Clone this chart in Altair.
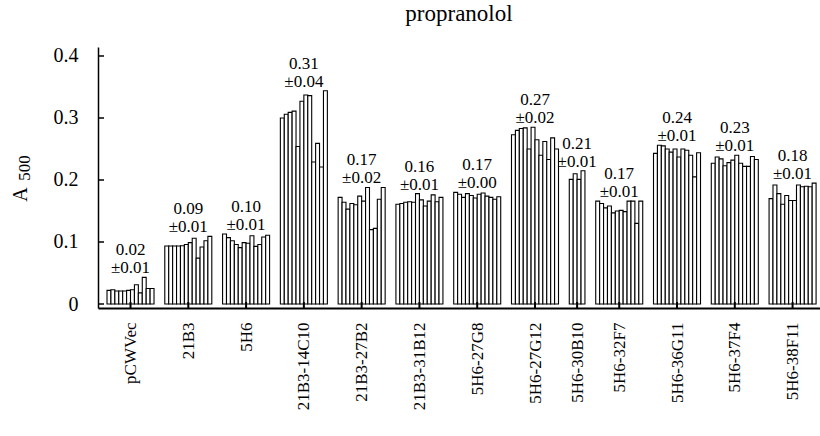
import altair as alt
import pandas as pd

# Clone names along the x axis
clones = ["pCWVec", "21B3", "5H6", "21B3-14C10", "21B3-27B2", "21B3-31B12",
          "5H6-27G8", "5H6-27G12", "5H6-30B10", "5H6-32F7", "5H6-36G11",
          "5H6-37F4", "5H6-38F11"]

# Mean and standard deviation printed above each clone
means = ["0.02", "0.09", "0.10", "0.31", "0.17", "0.16", "0.17",
         "0.27", "0.21", "0.17", "0.24", "0.23", "0.18"]
sds = ["0.01", "0.01", "0.01", "0.04", "0.02", "0.01", "0.00",
       "0.02", "0.01", "0.01", "0.01", "0.01", "0.01"]

# A500 readings of the individual replicates for each clone
pcwvec = [0.022, 0.023, 0.021, 0.021, 0.021, 0.022, 0.023, 0.031, 0.018, 0.043, 0.025, 0.025]
b21b3 = [0.0935, 0.0935, 0.0935, 0.0935, 0.094, 0.096, 0.099, 0.106, 0.074, 0.092, 0.102, 0.109]
h5h6 = [0.113, 0.107, 0.102, 0.096, 0.091, 0.099, 0.098, 0.110, 0.093, 0.096, 0.108, 0.111]
c14c10 = [0.300, 0.306, 0.309, 0.311, 0.254, 0.327, 0.337, 0.336, 0.229, 0.259, 0.221, 0.344]
c27b2 = [0.172, 0.164, 0.153, 0.162, 0.160, 0.174, 0.166, 0.188, 0.120, 0.122, 0.169, 0.188]
c31b12 = [0.161, 0.162, 0.164, 0.165, 0.164, 0.178, 0.168, 0.158, 0.166, 0.176, 0.165, 0.172]
c27g8 = [0.180, 0.177, 0.172, 0.178, 0.175, 0.171, 0.177, 0.179, 0.174, 0.172, 0.169, 0.173]
c27g12 = [0.273, 0.280, 0.283, 0.284, 0.250, 0.285, 0.265, 0.240, 0.262, 0.233, 0.268, 0.250]
c30b10 = [0.201, 0.210, 0.201, 0.215]
c32f7 = [0.166, 0.162, 0.155, 0.158, 0.147, 0.150, 0.151, 0.149, 0.166, 0.166, 0.130, 0.166]
c36g11 = [0.243, 0.256, 0.255, 0.250, 0.245, 0.250, 0.237, 0.250, 0.248, 0.240, 0.205, 0.244]
c37f4 = [0.227, 0.237, 0.234, 0.223, 0.228, 0.232, 0.240, 0.227, 0.222, 0.222, 0.238, 0.233]
c38f11 = [0.170, 0.192, 0.178, 0.161, 0.175, 0.167, 0.167, 0.192, 0.189, 0.190, 0.189, 0.195]

replicates = [pcwvec, b21b3, h5h6, c14c10, c27b2, c31b12, c27g8,
              c27g12, c30b10, c32f7, c36g11, c37f4, c38f11]

y_ticks = [0, 0.1, 0.2, 0.3, 0.4]

GAP = 2.75          # empty bar slots between clones
W, H = 722, 261     # plot area
SERIF = "Liberation Serif"

bar_rows, group_rows = [], []
start = 0.0
for name, vals, m, s in zip(clones, replicates, means, sds):
    for i, v in enumerate(vals):
        bar_rows.append({"clone": name, "x": start + i, "x2": start + i + 1, "a500": v})
    group_rows.append({"clone": name, "center": start + len(vals) / 2,
                       "top": max(vals), "mean": m, "sd": "\u00b1" + s})
    start += len(vals) + GAP

bars_df = pd.DataFrame(bar_rows)
groups_df = pd.DataFrame(group_rows)
centers = list(groups_df["center"])

label_map = "{" + ",".join(f"'{c:g}':'{n}'" for c, n in zip(centers, clones)) + "}"

x_scale = alt.Scale(domain=[-2.3, start - GAP + 1.0], nice=False, zero=False)
y_scale = alt.Scale(domain=[-0.00645, 0.4145], nice=False, zero=False)

x_axis = alt.Axis(values=centers, labelExpr=f"{label_map}[format(datum.value, '')]",
                  labelAngle=-90, labelFont=SERIF, labelFontSize=17, labelColor="black",
                  labelPadding=14, ticks=False, grid=False, domainColor="black",
                  domainWidth=2, title=None, labelFlush=False, labelOverlap=False)
# y-axis title "A"; its subscript "500" is drawn as a separate text mark
y_axis = alt.Axis(values=y_ticks, labelExpr="datum.value == 0 ? '0' : format(datum.value, '.1f')",
                  labelFont=SERIF, labelFontSize=20, labelColor="black", labelPadding=20,
                  ticks=False, grid=False, domainColor="black", domainWidth=1.5,
                  title="A", titleFont=SERIF, titleFontSize=20, titleFontWeight="normal",
                  titleColor="black", titleAngle=270, titleX=-78, titleY=147,
                  titleAlign="center", titleBaseline="middle")

bars = alt.Chart(bars_df).mark_bar(fill="white", stroke="black", strokeWidth=1.1).encode(
    x=alt.X("x:Q", scale=x_scale, axis=x_axis),
    x2="x2:Q",
    y=alt.Y("a500:Q", scale=y_scale, axis=y_axis),
    y2=alt.datum(0),
)

ytick_marks = alt.Chart(pd.DataFrame({"v": y_ticks})).mark_rule(
    color="black", strokeWidth=1.5).encode(
    y=alt.Y("v:Q", scale=y_scale), x=alt.value(0), x2=alt.value(6))

xtick_marks = alt.Chart(groups_df).mark_rule(color="black", strokeWidth=2).encode(
    x=alt.X("center:Q", scale=x_scale), y=alt.value(H), y2=alt.value(H - 6))

mean_text = alt.Chart(groups_df).mark_text(
    font=SERIF, fontSize=17, color="black", baseline="alphabetic", dy=-22).encode(
    x=alt.X("center:Q", scale=x_scale), y=alt.Y("top:Q", scale=y_scale), text="mean:N")

sd_text = alt.Chart(groups_df).mark_text(
    font=SERIF, fontSize=17, color="black", baseline="alphabetic", dy=-4).encode(
    x=alt.X("center:Q", scale=x_scale), y=alt.Y("top:Q", scale=y_scale), text="sd:N")

y_title_sub = alt.Chart(pd.DataFrame({"t": ["500"]})).mark_text(
    font=SERIF, fontSize=17, color="black", angle=270).encode(
    x=alt.value(-73), y=alt.value(121), text="t:N")

chart = alt.layer(bars, ytick_marks, xtick_marks, mean_text, sd_text,
                  y_title_sub).properties(
    width=W, height=H,
    title=alt.TitleParams("propranolol", font=SERIF, fontSize=23, fontWeight="normal",
                          color="black", offset=20),
    padding={"left": 98, "top": 47, "right": 0, "bottom": 128},
    autosize=alt.AutoSizeParams(type="none"),
).configure_view(stroke=None)

chart.save("out.html", embed_options={"renderer": "svg", "actions": False})
